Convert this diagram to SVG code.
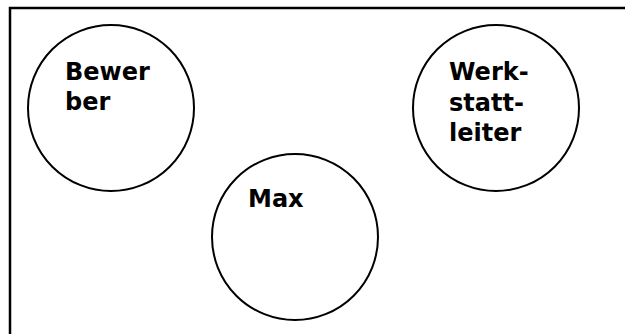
<svg xmlns="http://www.w3.org/2000/svg" width="625" height="334" viewBox="0 0 625 334">
<style>
.node{fill:#fff;stroke:#000;stroke-width:2}
.lbl{font-family:"DejaVu Sans",Verdana,sans-serif;font-weight:bold;font-size:24px;fill:#000}
.frame{fill:none;stroke:#000;stroke-width:2.5}
</style>
<rect width="625" height="334" fill="#fff"/>
<path class="frame" d="M10,340 V8 H630"/>
<g id="bewerber">
<circle class="node" cx="111" cy="108" r="83"/>
<text class="lbl" x="65" y="80">Bewer</text>
<text class="lbl" x="65" y="110">ber</text>
</g>
<g id="werkstattleiter">
<circle class="node" cx="496" cy="108" r="83"/>
<text class="lbl" x="449" y="80">Werk-</text>
<text class="lbl" x="449" y="111">statt-</text>
<text class="lbl" x="449" y="141">leiter</text>
</g>
<g id="max">
<circle class="node" cx="295" cy="237" r="83"/>
<text class="lbl" x="248" y="207">Max</text>
</g>
<g id="connectors"/>
</svg>
